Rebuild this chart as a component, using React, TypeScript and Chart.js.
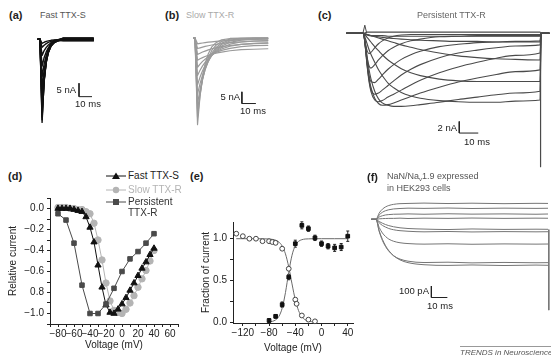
import React, { useEffect, useRef } from "react";
import { Chart, registerables } from "chart.js";

Chart.register(...registerables);

const FONT = "'Liberation Sans', Arial, Helvetica, sans-serif";

// ---------------- (a) Fast TTX-S current traces (ms, nA) ----------------
const A_TIME = [-1.5, 0, 1.6, 3.2, 4.8, 6.4, 8.5, 11, 14, 18, 24, 32, 41];
const A_TRACES = [
  [0, 0, -31, -15.0, -7.2, -3.5, -1.35, -0.43, -0.11, 0.4, 0.4, 0.4, 0.4],
  [0, 0, -30, -15.4, -7.9, -4.1, -1.7, -0.6, -0.17, -0.3, -0.3, -0.3, -0.3],
  [0, 0, -29, -15.7, -8.5, -4.5, -2.0, -0.78, -0.24, 0.2, 0.2, 0.2, 0.2],
  [0, 0, -27, -15.2, -8.6, -4.9, -2.3, -0.94, -0.32, -0.6, -0.6, -0.6, -0.6],
  [0, 0, -25, -14.7, -8.6, -5.0, -2.5, -1.1, -0.4, 0.5, 0.5, 0.5, 0.5],
  [0, 0, -22, -13.3, -8.1, -4.95, -2.5, -1.17, -0.45, -0.14, 0, 0, 0],
  [0, 0, -18, -11.4, -7.2, -4.6, -2.5, -1.2, -0.53, -0.4, -0.4, -0.4, -0.4],
  [0, 0, -14, -9.2, -6.0, -3.9, -2.2, -1.2, -0.53, 0.3, 0.3, 0.3, 0.3],
  [0, 0, -10, -6.8, -4.7, -3.2, -1.9, -1.07, -0.52, -0.2, -0.2, -0.2, -0.2],
  [0, 0, -6, -4.2, -3.0, -2.1, -1.3, -0.78, -0.41, 0.1, 0.1, 0.1, 0.1],
  [0, 0, -3, -2.2, -1.6, -1.15, -0.76, -0.46, -0.25, -0.5, -0.5, -0.5, -0.5],
  [0, 0, -1.5, -1.1, -0.8, -0.57, -0.38, -0.23, -0.12, 0.2, 0.2, 0.2, 0.2],
];
const A_BAR_T = [30, 30, 40];
const A_BAR_I = [-16.4, -21.4, -21.4];

// ---------------- (b) Slow TTX-R current traces (ms, nA) ----------------
const B_TIME = [-1, 0, 1.8, 3.6, 5.4, 7.2, 9.5, 12, 15, 19, 25, 33, 42, 52];
const B_TRACES = [
  [0, 0, -37, -24.8, -16.6, -11.1, -6.7, -3.8, -2.0, -0.8, -0.2, -0.04, 0, 0],
  [0, 0, -34, -24.5, -17.7, -12.7, -8.4, -5.3, -3.1, -1.5, -0.5, -0.12, -0.02, 0],
  [0, 0, -31, -23.5, -17.8, -13.5, -9.5, -6.5, -4.1, -2.2, -0.87, -0.25, -0.06, 0],
  [0, 0, -28, -22.0, -17.3, -13.6, -10.0, -7.2, -4.8, -2.8, -1.27, -0.44, -0.13, -0.03],
  [0, 0, -24, -19.5, -15.8, -12.9, -9.9, -7.4, -5.3, -3.4, -1.85, -0.9, -0.51, -0.36],
  [0, 0, -20, -16.7, -14.0, -11.8, -9.4, -7.5, -5.7, -4.1, -2.65, -1.7, -1.28, -1.1],
  [0, 0, -16, -13.8, -11.9, -10.4, -8.7, -7.3, -6.0, -4.7, -3.5, -2.7, -2.3, -2.1],
  [0, 0, -12.5, -11.2, -10.0, -9.1, -8.0, -7.1, -6.2, -5.3, -4.4, -3.7, -3.3, -3.15],
  [0, 0, -9.5, -8.9, -8.4, -7.9, -7.4, -6.9, -6.45, -6.0, -5.45, -5.0, -4.8, -4.6],
  [0, 0, -7, -6.5, -6.0, -5.6, -5.1, -4.6, -4.2, -3.7, -3.2, -2.7, -2.4, -2.2],
  [0, 0, -4.5, -4.2, -3.9, -3.6, -3.3, -3.0, -2.7, -2.35, -1.97, -1.62, -1.37, -1.2],
  [0, 0, -2.5, -2.3, -2.14, -1.98, -1.8, -1.62, -1.44, -1.23, -0.99, -0.76, -0.6, -0.48],
];
const B_BAR_T = [33.5, 33.5, 43.5];
const B_BAR_I = [-23, -28, -28];

// ---------------- (c) Persistent TTX-R current traces (ms, nA) ----------------
const C_TIME = [-9, 0, 1, 2, 3, 4, 6, 8, 10, 13, 16, 20, 25, 30, 40, 50, 60, 70, 80, 93, 93.6, 98];
const C_TRACES = [
  [0, 0, -1.5, -3.0, -3.5, -3.3, -2.5, -1.8, -1.3, -0.8, -0.5, -0.3, -0.2, -0.2, -0.2, -0.2, -0.2, -0.2, -0.2, -0.2, 0, 0],
  [0, 0, -1.8, -4.2, -5.6, -6.0, -5.4, -4.6, -3.9, -3.0, -2.4, -1.8, -1.3, -1.0, -0.6, -0.5, -0.4, -0.4, -0.4, -0.4, 0, 0],
  [0, 0, -2.0, -5.0, -7.2, -8.3, -8.5, -7.9, -7.2, -6.2, -5.4, -4.5, -3.7, -3.1, -2.3, -1.9, -1.6, -1.5, -1.4, -1.3, 0, 0],
  [0, 0, -2.2, -5.5, -8.0, -9.6, -10.5, -10.3, -9.8, -9.0, -8.2, -7.2, -6.2, -5.4, -4.2, -3.4, -2.9, -2.5, -2.2, -2.0, 0, 0],
  [0, 0, -2.2, -5.6, -8.3, -10.0, -11.5, -11.8, -11.6, -11.0, -10.5, -9.8, -8.9, -8.1, -6.8, -5.8, -5.0, -4.3, -3.8, -3.4, 0, 0],
  [0, 0, -2.0, -5.0, -7.6, -9.3, -11.2, -12.1, -12.4, -12.3, -12.0, -11.5, -10.9, -10.3, -9.3, -8.4, -7.7, -7.1, -6.6, -6.3, 0, 0],
  [0, 0, -1.6, -4.0, -6.2, -7.8, -10.0, -11.3, -12.0, -12.4, -12.6, -12.6, -12.5, -12.3, -11.9, -11.4, -11.0, -10.6, -10.3, -10.0, 0, 0],
  [0, 0, -0.8, -1.8, -2.8, -3.6, -5.0, -6.3, -7.3, -8.6, -9.4, -10.2, -10.8, -11.2, -11.6, -11.8, -11.9, -11.9, -11.7, -11.5, 0, 0],
  [0, 0, -0.3, -0.7, -1.1, -1.5, -2.3, -3.0, -3.7, -4.6, -5.3, -6.1, -6.8, -7.3, -7.9, -8.2, -8.3, -8.3, -8.3, -8.3, 0, 0],
  [0, 0, -0.1, -0.2, -0.3, -0.4, -0.6, -0.8, -1.0, -1.3, -1.6, -2.0, -2.4, -2.8, -3.4, -3.9, -4.2, -4.4, -4.5, -4.6, 0, 0],
  [0, 0, -0.1, -0.2, -0.3, -0.4, -0.5, -0.6, -0.7, -0.8, -0.9, -1.0, -1.1, -1.2, -1.3, -1.4, -1.4, -1.5, -1.5, -1.5, 0, 0],
  [0, 0, 0.1, 0.2, 0.2, 0.2, 0.2, 0.2, 0.2, 0.2, 0.2, 0.2, 0.2, 0.2, 0.2, 0.2, 0.2, 0.2, 0.2, 0.2, 0, 0],
  [0, 0, -0.2, -0.3, -0.4, -0.4, -0.4, -0.4, -0.4, -0.5, -0.5, -0.5, -0.5, -0.5, -0.5, -0.5, -0.5, -0.5, -0.5, -0.5, 0, 0],
];
const C_ONSET_T = [-0.2, 0.8, 1.8];
const C_ONSET_I = [0, 1.4, 0];
const C_TAIL_T = [93.3, 93.3];
const C_TAIL_I = [0, -23];
const C_BAR_T = [50.5, 50.5, 60.5];
const C_BAR_I = [-15.2, -17.2, -17.2];

// ---------------- (d) I–V relations ----------------
const D_VOLT_5 = [-80, -75, -70, -65, -60, -55, -50, -45, -40, -35, -30, -25, -20, -15, -10, -5, 0, 5, 10, 15, 20, 25, 30, 35, 40];
const D_FAST = [0, 0, 0, 0, -0.01, -0.02, -0.03, -0.08, -0.18, -0.32, -0.54, -0.75, -0.92, -0.99, -1.0, -0.96, -0.91, -0.85, -0.78, -0.71, -0.64, -0.57, -0.51, -0.44, -0.38];
const D_SLOW = [0.01, 0.01, 0.01, 0, 0, -0.01, -0.01, -0.03, -0.05, -0.14, -0.3, -0.49, -0.71, -0.88, -0.97, -0.99, -1.0, -0.96, -0.9, -0.83, -0.75, -0.67, -0.59, -0.5, -0.4];
const D_VOLT_10 = [-80, -70, -60, -50, -40, -30, -20, -10, 0, 10, 20, 30, 40];
const D_PERS = [-0.05, -0.11, -0.33, -0.73, -1.0, -1.0, -0.91, -0.76, -0.6, -0.48, -0.41, -0.33, -0.24];
const D_X_TICKS = [-90, -80, -70, -60, -50, -40, -30, -20, -10, 0, 10, 20, 30, 40, 50, 60, 70];
const D_X_LABELED = [-80, -60, -40, -20, 0, 20, 40, 60];
const D_Y_TICKS = [0.1, 0, -0.1, -0.2, -0.3, -0.4, -0.5, -0.6, -0.7, -0.8, -0.9, -1.0, -1.1];
const D_Y_LABEL_VALUES = [0, -0.2, -0.4, -0.6, -0.8, -1.0];
const D_Y_LABEL_TEXT = ["0.0", "−0.2", "−0.4", "−0.6", "0.8", "−1.0"];

// ---------------- (e) activation / inactivation ----------------
const E_INACT_V = [-130, -120, -110, -100, -90, -80, -75, -70, -60, -50, -40, -38, -30, -20, -10];
const E_INACT = [1.06, 1.03, 1.0, 1.0, 0.97, 0.97, 0.96, 0.95, 0.88, 0.64, 0.27, 0.22, 0.08, 0.03, 0.01];
const E_ACT_V = [-80, -70, -60, -50, -40, -30, -20, -10, 0, 10, 20, 30, 40];
const E_ACT = [0.02, 0.07, 0.21, 0.54, 0.94, 1.16, 1.12, 1.01, 0.94, 0.91, 0.89, 0.9, 1.03];
const E_ACT_ERR = [0.01, 0.01, 0.02, 0.02, 0.03, 0.03, 0.02, 0.02, 0.02, 0.02, 0.03, 0.03, 0.05];
const E_INACT_FIT_V = [-130, -100, -80, -70, -65, -60, -55, -50, -45, -40, -35, -30, -25, -20, -15, -10];
const E_INACT_FIT = [1.0, 1.0, 0.996, 0.982, 0.96, 0.912, 0.818, 0.661, 0.458, 0.269, 0.138, 0.065, 0.029, 0.013, 0.006, 0.003];
const E_ACT_FIT_V = [-80, -75, -70, -65, -60, -55, -50, -45, -40, -35, -30, -25, -20, -10, 0, 20, 40];
const E_ACT_FIT = [0.004, 0.01, 0.027, 0.069, 0.168, 0.354, 0.599, 0.802, 0.917, 0.968, 0.988, 0.996, 0.998, 1.0, 1.0, 1.0, 1.0];
const E_X_TICKS = [-120, -100, -80, -60, -40, -20, 0, 20, 40];
const E_X_LABELED = [-120, -80, -40, 0, 40];
const E_Y_TICKS = [0, 0.25, 0.5, 0.75, 1.0];
const E_Y_LABEL_VALUES = [0, 0.5, 1.0];
const E_Y_LABEL_TEXT = ["0.0", "0.5", "1.0"];

// ---------------- (f) NaN/Nav1.9 in HEK293 (ms, pA) ----------------
const F_TIME = [-3, 0, 2, 4, 6, 8, 11, 15, 20, 30, 45, 60, 80, 100, 107.5];
const F_TRACES = [
  [0, 0, 55, 88, 108, 120, 130, 136, 138, 141, 137, 140, 136, 139, 138],
  [0, 0, 38, 61, 75, 83, 90, 94, 97, 95, 98, 94, 97, 95, 96],
  [0, 0, 20, 31, 38, 41, 44, 45, 47, 44, 48, 45, 47, 44, 46],
  [0, 0, 4, 6, 7, 8, 8, 10, 7, 10, 8, 11, 8, 10, 9],
  [0, 0, -19, -34, -46, -55, -65, -74, -80, -85, -89, -84, -88, -86, -87],
  [0, 0, -31, -53, -68, -80, -91, -99, -104, -109, -106, -110, -107, -109, -108],
  [0, 0, -71, -119, -150, -172, -191, -204, -211, -216, -213, -217, -214, -216, -215],
  [0, 0, -107, -184, -238, -277, -317, -346, -364, -376, -373, -379, -375, -378, -377],
  [0, 0, -100, -174, -230, -272, -317, -353, -377, -395, -401, -397, -402, -398, -400],
];
const F_TAIL_T = [108, 108];
const F_TAIL_I = [-90, -790];
const F_BAR_T = [34.6, 34.6, 44.6];
const F_BAR_I = [-580, -680, -680];

// ---------------- helpers ----------------
type Pt = { x: number; y: number };
const pts = (xs: number[], ys: number[]): Pt[] => xs.map((x, i) => ({ x, y: ys[i] }));

interface Frame {
  left: number; top: number; width: number; height: number;
  x0: number; sx: number; y0: number; sy: number; // page px of t=0 / I=0 and px per unit
}

const FRAME_A: Frame = { left: 30, top: 26, width: 120, height: 110, x0: 40, sx: 1.3, y0: 39.3, sy: 2.68 };
const FRAME_B: Frame = { left: 185, top: 26, width: 120, height: 110, x0: 195, sx: 1.4, y0: 38, sy: 2.34 };
const FRAME_C: Frame = { left: 340, top: 16, width: 211, height: 156, x0: 363.3, sx: 1.9, y0: 33.3, sy: 5.8 };
const FRAME_F: Frame = { left: 362, top: 192, width: 189, height: 126, x0: 376, sx: 1.6, y0: 219.3, sy: 0.115 };

function traceDataset(data: Pt[], color: string, width: number, smooth = true) {
  const ds: any = {
    data,
    borderColor: color,
    backgroundColor: color,
    borderWidth: width,
    pointRadius: 0,
    fill: false,
    tension: 0,
    spanGaps: true,
    borderJoinStyle: "round",
  };
  if (smooth) ds.cubicInterpolationMode = "monotone";
  return ds;
}

// Strokes each trace through the chart's own x / y scales (used for the sharp
// sub-millisecond peaks of panels a and b).
function tracePlugin(times: number[], traces: number[][], color: string, lw: number) {
  return {
    id: "tracePolylines",
    afterDatasetsDraw(chart: any) {
      const { ctx } = chart;
      const x = chart.scales.x, y = chart.scales.y;
      ctx.save();
      ctx.strokeStyle = color;
      ctx.lineWidth = lw;
      ctx.lineJoin = "round";
      ctx.lineCap = "round";
      traces.forEach((tr) => {
        ctx.beginPath();
        times.forEach((t, i) => {
          const px = x.getPixelForValue(t);
          const py = y.getPixelForValue(tr[i]);
          if (i === 0) ctx.moveTo(px, py);
          else ctx.lineTo(px, py);
        });
        ctx.stroke();
      });
      ctx.restore();
    },
  };
}

function traceConfig(f: Frame, times: number[], traces: number[][], color: string, lw: number, extra: any[], smooth: boolean, usePlugin = false) {
  const xMin = (f.left - f.x0) / f.sx;
  const xMax = (f.left + f.width - f.x0) / f.sx;
  const yMax = (f.y0 - f.top) / f.sy;
  const yMin = (f.y0 - (f.top + f.height)) / f.sy;
  return {
    type: "scatter",
    data: {
      datasets: [
        ...traces.map((tr) => ({ ...traceDataset(pts(times, tr), color, usePlugin ? 0 : lw, smooth), showLine: true })),
        ...extra.map((d) => ({ ...d, showLine: true })),
      ],
    },
    plugins: usePlugin ? [tracePlugin(times, traces, color, lw)] : [],
    options: {
      responsive: false,
      maintainAspectRatio: false,
      animation: false,
      events: [],
      layout: { padding: 0 },
      plugins: { legend: { display: false }, tooltip: { enabled: false } },
      scales: {
        x: { type: "linear", display: false, min: xMin, max: xMax },
        y: { type: "linear", display: false, min: yMin, max: yMax },
      },
    },
  };
}

const near = (a: number, b: number) => Math.abs(a - b) < 1e-6;
const fmtV = (v: number) => (v < 0 ? "−" + Math.abs(v) : String(v));

function axisCommon() {
  return {
    grid: { drawOnChartArea: false, drawTicks: true, tickLength: 3, color: "#222", lineWidth: 1 },
    border: { display: true, color: "#222", width: 1 },
  };
}

function dConfig() {
  return {
    type: "line",
    data: {
      datasets: [
        {
          label: "Persistent TTX-R", data: pts(D_VOLT_10, D_PERS), borderColor: "#4a4a4a", backgroundColor: "#4a4a4a",
          pointStyle: "rect", pointRadius: 3.2, borderWidth: 1, order: 0, clip: false,
        },
        {
          label: "Fast TTX-S", data: pts(D_VOLT_5, D_FAST), borderColor: "#111", backgroundColor: "#111",
          pointStyle: "triangle", pointRadius: 3.6, borderWidth: 1, order: 1, clip: false,
        },
        {
          label: "Slow TTX-R", data: pts(D_VOLT_5, D_SLOW), borderColor: "#b4b4b4", backgroundColor: "#b4b4b4",
          pointStyle: "circle", pointRadius: 3.2, borderWidth: 1, order: 2, clip: false,
        },
      ],
    },
    options: {
      responsive: false,
      animation: false,
      events: [],
      layout: { padding: { top: 10, right: 12, left: 0, bottom: 0 } },
      plugins: { legend: { display: false }, tooltip: { enabled: false } },
      scales: {
        x: {
          type: "linear", min: -90, max: 70,
          afterBuildTicks: (ax: any) => { ax.ticks = D_X_TICKS.map((value) => ({ value })); },
          afterFit: (ax: any) => { ax.height = 35; },
          ticks: {
            autoSkip: false, maxRotation: 0, minRotation: 0, padding: 1, color: "#222",
            font: { size: 10, family: FONT },
            callback: (v: number) => (D_X_LABELED.some((l) => near(l, v)) ? fmtV(v) : ""),
          },
          title: { display: true, text: "Voltage (mV)", color: "#222", font: { size: 10, family: FONT }, padding: { top: 0, bottom: 8 } },
          ...axisCommon(),
        },
        y: {
          type: "linear", min: -1.1, max: 0.1,
          afterBuildTicks: (ax: any) => { ax.ticks = D_Y_TICKS.map((value) => ({ value })); },
          afterFit: (ax: any) => { ax.width = 50; },
          ticks: {
            autoSkip: false, padding: 3, color: "#222", font: { size: 10, family: FONT },
            callback: (v: number) => {
              const i = D_Y_LABEL_VALUES.findIndex((l) => near(l, v));
              return i >= 0 ? D_Y_LABEL_TEXT[i] : "";
            },
          },
          title: { display: true, text: "Relative current", color: "#222", font: { size: 10, family: FONT }, padding: { top: 7, bottom: 0 } },
          ...axisCommon(),
        },
      },
    },
  };
}

const errorBars = {
  id: "errorBars",
  beforeDatasetsDraw(chart: any) {
    const { ctx, scales } = chart;
    const x = scales.x, y = scales.y;
    ctx.save();
    ctx.strokeStyle = "#222";
    ctx.lineWidth = 1;
    E_ACT_V.forEach((v, i) => {
      const px = x.getPixelForValue(v);
      const y1 = y.getPixelForValue(E_ACT[i] - E_ACT_ERR[i]);
      const y2 = y.getPixelForValue(E_ACT[i] + E_ACT_ERR[i]);
      ctx.beginPath();
      ctx.moveTo(px, y1 + 1);
      ctx.lineTo(px, y2 - 1);
      ctx.moveTo(px - 1.5, y1 + 1);
      ctx.lineTo(px + 1.5, y1 + 1);
      ctx.moveTo(px - 1.5, y2 - 1);
      ctx.lineTo(px + 1.5, y2 - 1);
      ctx.stroke();
    });
    ctx.restore();
  },
};

function eConfig() {
  return {
    type: "line",
    data: {
      datasets: [
        {
          label: "Activation", data: pts(E_ACT_V, E_ACT), showLine: false, pointStyle: "rect", pointRadius: 2.6,
          backgroundColor: "#111", borderColor: "#111", borderWidth: 1, order: 0, clip: false,
        },
        {
          label: "Inactivation", data: pts(E_INACT_V, E_INACT), showLine: false, pointStyle: "circle", pointRadius: 2.4,
          backgroundColor: "#fff", borderColor: "#444", borderWidth: 1, order: 1, clip: false,
        },
        { ...traceDataset(pts(E_ACT_FIT_V, E_ACT_FIT), "#6a6a6a", 1), order: 2 },
        { ...traceDataset(pts(E_INACT_FIT_V, E_INACT_FIT), "#6a6a6a", 1), order: 3 },
      ],
    },
    plugins: [errorBars],
    options: {
      responsive: false,
      animation: false,
      events: [],
      layout: { padding: { top: 32, right: 7, left: 0, bottom: 0 } },
      plugins: { legend: { display: false }, tooltip: { enabled: false } },
      scales: {
        x: {
          type: "linear", min: -135, max: 48,
          afterBuildTicks: (ax: any) => { ax.ticks = E_X_TICKS.map((value) => ({ value })); },
          afterFit: (ax: any) => { ax.height = 36; },
          ticks: {
            autoSkip: false, maxRotation: 0, minRotation: 0, padding: 1, color: "#222",
            font: { size: 10, family: FONT },
            callback: (v: number) => (E_X_LABELED.some((l) => near(l, v)) ? fmtV(v) : ""),
          },
          title: { display: true, text: "Voltage (mV)", color: "#222", font: { size: 10, family: FONT }, padding: { top: 0, bottom: 5 } },
          ...axisCommon(),
        },
        y: {
          type: "linear", min: -0.01, max: 1.2,
          afterBuildTicks: (ax: any) => { ax.ticks = E_Y_TICKS.map((value) => ({ value })); },
          afterFit: (ax: any) => { ax.width = 43; },
          ticks: {
            autoSkip: false, padding: 3, color: "#222", font: { size: 10, family: FONT },
            callback: (v: number) => {
              const i = E_Y_LABEL_VALUES.findIndex((l) => near(l, v));
              return i >= 0 ? E_Y_LABEL_TEXT[i] : "";
            },
          },
          title: { display: true, text: "Fraction of current", color: "#222", font: { size: 10, family: FONT }, padding: { top: 10, bottom: 0 } },
          ...axisCommon(),
        },
      },
    },
  };
}

function ChartBox({ left, top, width, height, make }: { left: number; top: number; width: number; height: number; make: () => any }) {
  const ref = useRef<HTMLCanvasElement>(null);
  useEffect(() => {
    const chart = new Chart(ref.current as HTMLCanvasElement, make());
    return () => chart.destroy();
  }, []);
  return (
    <div style={{ position: "absolute", left, top, width, height }}>
      <canvas ref={ref} width={width} height={height} style={{ width, height, display: "block" }} />
    </div>
  );
}

function T({ x, y, s = 9, c = "#222", b = false, a = "left", i = false, children }: any) {
  const tx = a === "left" ? "0" : a === "right" ? "-100%" : "-50%";
  return (
    <div style={{
      position: "absolute", left: x, top: y, transform: `translate(${tx}, -50%)`, fontSize: s, color: c,
      fontWeight: b ? 700 : 400, fontStyle: i ? "italic" : "normal", whiteSpace: "nowrap", lineHeight: 1, fontFamily: FONT,
    }}>{children}</div>
  );
}

function LegendMark({ x, y, color, shape }: { x: number; y: number; color: string; shape: string }) {
  return (
    <svg width={20} height={10} style={{ position: "absolute", left: x, top: y - 5 }}>
      <line x1={0} y1={5} x2={20} y2={5} stroke={color} strokeWidth={1} />
      {shape === "triangle" && <polygon points="10,1.5 14,8 6,8" fill={color} />}
      {shape === "circle" && <circle cx={10} cy={5} r={3.2} fill={color} />}
      {shape === "rect" && <rect x={7} y={2} width={6} height={6} fill={color} />}
    </svg>
  );
}

const barDs = (t: number[], v: number[]) => traceDataset(pts(t, v), "#222", 1, false);

export default function App() {
  return (
    <div style={{ position: "fixed", left: 0, top: 0, width: 551, height: 359, background: "#fff", overflow: "hidden", fontFamily: FONT }}>
      <ChartBox {...FRAME_A} make={() => traceConfig(FRAME_A, A_TIME, A_TRACES, "#111", 1.4, [barDs(A_BAR_T, A_BAR_I)], false, true)} />
      <ChartBox {...FRAME_B} make={() => traceConfig(FRAME_B, B_TIME, B_TRACES, "#9a9a9a", 1.2, [barDs(B_BAR_T, B_BAR_I)], false, true)} />
      <ChartBox {...FRAME_C} make={() => traceConfig(FRAME_C, C_TIME, C_TRACES, "#4a4a4a", 1.1, [
        barDs(C_BAR_T, C_BAR_I), traceDataset(pts(C_ONSET_T, C_ONSET_I), "#4a4a4a", 1, false), traceDataset(pts(C_TAIL_T, C_TAIL_I), "#4a4a4a", 1.2, false),
      ], true)} />
      <ChartBox {...FRAME_F} make={() => traceConfig(FRAME_F, F_TIME, F_TRACES, "#757575", 1, [
        barDs(F_BAR_T, F_BAR_I), traceDataset(pts(F_TAIL_T, F_TAIL_I), "#757575", 1, false),
      ], true)} />
      <ChartBox left={0} top={188} width={190} height={171} make={dConfig} />
      <ChartBox left={190} top={190} width={170} height={169} make={eConfig} />

      {/* panel letters and titles */}
      <T x={9} y={15} s={11} b>(a)</T>
      <T x={40} y={15} s={9} c="#555">Fast TTX-S</T>
      <T x={165} y={15} s={11} b>(b)</T>
      <T x={186} y={15} s={9} c="#aaa">Slow TTX-R</T>
      <T x={318} y={15} s={11} b>(c)</T>
      <T x={417} y={15} s={9} c="#666">Persistent TTX-R</T>
      <T x={8} y={176} s={11} b>(d)</T>
      <T x={190} y={176} s={11} b>(e)</T>
      <T x={367} y={177} s={11} b>(f)</T>
      <T x={387} y={177} s={9} c="#555">NaN/Na<sub style={{ fontSize: 6, verticalAlign: "-2px" }}>v</sub>1.9 expressed</T>
      <T x={387} y={188} s={9} c="#555">in HEK293 cells</T>

      {/* scale bar labels */}
      <T x={76} y={90} s={9.5} a="right">5 nA</T>
      <T x={88} y={104} s={9.5} a="center">10 ms</T>
      <T x={240} y={97} s={9.5} a="right">5 nA</T>
      <T x={253} y={111} s={9.5} a="center">10 ms</T>
      <T x={457} y={128} s={9.5} a="right">2 nA</T>
      <T x={477} y={142} s={9.5} a="center">10 ms</T>
      <T x={429} y={291} s={9.5} a="right">100 pA</T>
      <T x={440} y={306} s={9.5} a="center">10 ms</T>

      {/* legend of (d) */}
      <LegendMark x={106} y={176} color="#111" shape="triangle" />
      <T x={128} y={176} s={10} c="#222">Fast TTX-S</T>
      <LegendMark x={106} y={190} color="#b4b4b4" shape="circle" />
      <T x={128} y={190} s={10} c="#b4b4b4">Slow TTX-R</T>
      <LegendMark x={106} y={202} color="#4a4a4a" shape="rect" />
      <T x={128} y={202} s={10} c="#333">Persistent</T>
      <T x={128} y={213} s={10} c="#333">TTX-R</T>

      {/* journal footer */}
      <div style={{ position: "absolute", left: 460, top: 346, width: 91, borderTop: "1px solid #999" }} />
      <T x={460} y={353} s={8} c="#555" i>TRENDS in Neurosciences</T>
    </div>
  );
}
